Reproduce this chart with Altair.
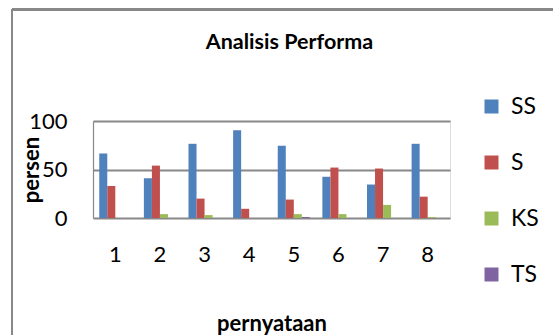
import altair as alt
import pandas as pd

questions = ["1", "2", "3", "4", "5", "6", "7", "8"]
categories = ["SS", "S", "KS", "TS"]
ss = [66.5, 41, 76.5, 90.5, 74.5, 42.5, 34.5, 76.5]
s = [33, 54, 20, 9.5, 19, 52, 51, 22]
ks = [0, 4, 3, 0, 4, 4, 13.5, 1]
ts = [0, 0, 0, 0, 1, 0, 0, 0]
colors = ["#4F81BD", "#C0504D", "#9BBB59", "#8064A2"]

series = {"SS": ss, "S": s, "KS": ks, "TS": ts}
rows = []
for cat in categories:
    for q, v in zip(questions, series[cat]):
        rows.append({"pernyataan": q, "kategori": cat, "persen": v})
df = pd.DataFrame(rows)

FONT = "Lato"
GRID = "#888888"

bars = alt.Chart(df).mark_bar(strokeWidth=0).encode(
    x=alt.X("pernyataan:N", sort=questions,
            scale=alt.Scale(paddingInner=0.28, paddingOuter=0.14),
            axis=alt.Axis(title="pernyataan", labelAngle=0, ticks=False, tickSize=0,
                          domain=False, labelFontSize=22, labelFont=FONT,
                          labelBaseline="alphabetic", labelPadding=43.5,
                          titleFont=FONT, titleFontSize=22, titleFontWeight="bold",
                          titleBaseline="alphabetic", titleY=112, titleColor="black",
                          labelColor="black")),
    xOffset=alt.XOffset("kategori:N", sort=categories,
                        scale=alt.Scale(paddingInner=0, paddingOuter=0)),
    y=alt.Y("persen:Q", scale=alt.Scale(domain=[0, 100], nice=False),
            axis=alt.Axis(title="persen", values=[0, 50, 100], ticks=False, tickSize=0,
                          domain=True, domainColor=GRID, domainWidth=1.2,
                          grid=True, gridColor=GRID, gridWidth=2,
                          labelFontSize=22, labelFont=FONT, labelPadding=26,
                          labelColor="black",
                          titleFont=FONT, titleFontSize=22, titleFontWeight="bold",
                          titleAngle=-90, titleX=-54.5, titleY=48.5,
                          titleAlign="center", titleBaseline="alphabetic",
                          titleColor="black")),
    color=alt.Color("kategori:N", sort=categories,
                    scale=alt.Scale(domain=categories, range=colors),
                    legend=alt.Legend(title=None, orient="none", legendX=387, legendY=-26,
                                      symbolType="square", symbolSize=196,
                                      symbolStrokeWidth=0, labelFontSize=23,
                                      labelFont=FONT, labelOffset=8, rowPadding=32,
                                      padding=0, labelColor="black")),
)

frame_left = alt.Chart(df).mark_rule(color=GRID, strokeWidth=2).encode(
    x=alt.value(-81), y=alt.value(-111.5), y2=alt.value(230))
frame_top = alt.Chart(df).mark_rule(color=GRID, strokeWidth=2).encode(
    x=alt.value(-81), x2=alt.value(470), y=alt.value(-111.5))

chart = alt.layer(frame_left, frame_top, bars).properties(
    width=357, height=97,
    title=alt.TitleParams("Analisis Performa", font=FONT, fontSize=21.5, fontWeight="bold",
                          anchor="middle", dx=18, offset=-45, color="black"),
    autosize=alt.AutoSizeParams(type="none"),
    padding={"left": 93, "top": 121, "right": 103, "bottom": 117},
).configure_view(stroke=None).configure(background="white")

chart.save("out.html", embed_options={"renderer": "svg", "actions": False})
